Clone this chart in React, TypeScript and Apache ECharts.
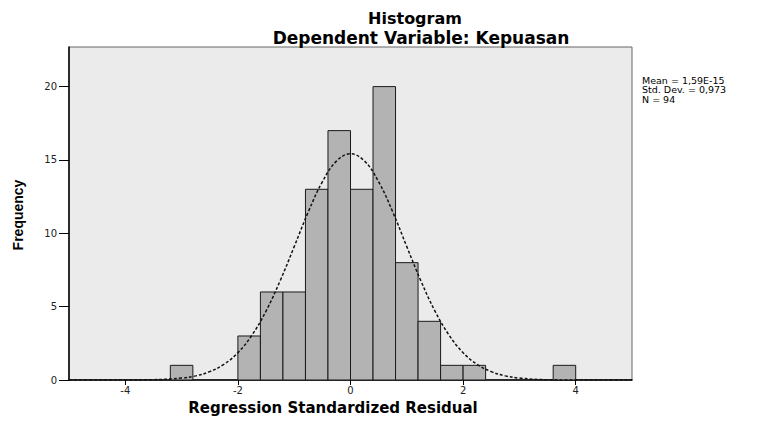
import React, { useEffect, useRef } from "react";
import * as echarts from "echarts";

const binStart = [-3.2, -2.0, -1.6, -1.2, -0.8, -0.4, 0, 0.4, 0.8, 1.2, 1.6, 2.0, 3.6];
const binEnd = [-2.8, -1.6, -1.2, -0.8, -0.4, 0, 0.4, 0.8, 1.2, 1.6, 2.0, 2.4, 4.0];
const counts = [1, 3, 6, 6, 13, 17, 13, 20, 8, 4, 1, 1, 1];

const curveX = [-5, -4.5, -4, -3.5, -3, -2.75, -2.5, -2.25, -2, -1.75, -1.5, -1.25, -1, -0.75, -0.5, -0.25, 0,
  0.25, 0.5, 0.75, 1, 1.25, 1.5, 1.75, 2, 2.25, 2.5, 2.75, 3, 3.5, 4, 4.5, 5];
const curveY = [0, 0, 0.003, 0.02, 0.13, 0.28, 0.57, 1.06, 1.86, 3.06, 4.7, 6.76, 9.09, 11.46, 13.51, 14.92, 15.42,
  14.92, 13.51, 11.46, 9.09, 6.76, 4.7, 3.06, 1.86, 1.06, 0.57, 0.28, 0.13, 0.02, 0.003, 0, 0];

const xTicks = [-4, -2, 0, 2, 4];
const yTicks = [0, 5, 10, 15, 20];

const title = "Histogram";
const subtitle = "Dependent Variable: Kepuasan";
const xName = "Regression Standardized Residual";
const yName = "Frequency";
const statsLines = ["Mean = 1,59E-15", "Std. Dev. = 0,973", "N = 94"];

export default function App() {
  const ref = useRef<HTMLDivElement>(null);
  useEffect(() => {
    if (!ref.current) return;
    const chart = echarts.init(ref.current, undefined, { renderer: "svg" });
    const font = "'DejaVu Sans', Arial, sans-serif";
    chart.setOption({
      animation: false,
      backgroundColor: "#ffffff",
      grid: {
        left: 69, right: 127, top: 47, bottom: 42,
        show: true, backgroundColor: "#ebebeb", borderColor: "#666", borderWidth: 1,
      },
      xAxis: {
        type: "value", min: -5, max: 5,
        axisLine: { show: true, onZero: false, lineStyle: { color: "#000", width: 1.5 } },
        axisTick: { show: true, customValues: xTicks, length: 5, lineStyle: { color: "#000" } },
        axisLabel: { customValues: xTicks, margin: 5, color: "#222", fontSize: 10, fontFamily: font },
        splitLine: { show: false },
      },
      yAxis: {
        type: "value", min: 0, max: 22.7,
        axisLine: { show: true, onZero: false, lineStyle: { color: "#000", width: 1.5 } },
        axisTick: { show: true, customValues: yTicks, length: 10, lineStyle: { color: "#000" } },
        axisLabel: { customValues: yTicks, margin: 12, color: "#222", fontSize: 10, fontFamily: font },
        splitLine: { show: false },
      },
      series: [
        {
          type: "custom",
          data: binStart.map((s, i) => [s, binEnd[i], counts[i]]),
          encode: { x: [0, 1], y: 2 },
          renderItem: (params: any, api: any) => {
            const p0 = api.coord([api.value(0), api.value(2)]);
            const p1 = api.coord([api.value(1), 0]);
            return {
              type: "rect",
              shape: { x: p0[0], y: p0[1], width: p1[0] - p0[0], height: p1[1] - p0[1] },
              style: { fill: "#b3b3b3", stroke: "#1a1a1a", lineWidth: 1 },
            };
          },
          z: 2,
        },
        {
          type: "line",
          data: curveX.map((x, i) => [x, curveY[i]]),
          smooth: 0.4,
          showSymbol: false,
          lineStyle: { color: "#111", width: 1.5, type: [3, 2] },
          z: 3,
        },
      ],
      graphic: [
        {
          type: "text", x: 415, y: 18,
          style: { text: title, fontFamily: font, fontWeight: "bold", fontSize: 16, fill: "#000", textAlign: "center", textVerticalAlign: "middle" },
        },
        {
          type: "text", x: 421, y: 38,
          style: { text: subtitle, fontFamily: font, fontWeight: "bold", fontSize: 17, fill: "#000", textAlign: "center", textVerticalAlign: "middle" },
        },
        {
          type: "text", x: 333, y: 408,
          style: { text: xName, fontFamily: font, fontWeight: "bold", fontSize: 15, fill: "#000", textAlign: "center", textVerticalAlign: "middle" },
        },
        {
          type: "text", x: 18, y: 215, rotation: Math.PI / 2,
          style: { text: yName, fontFamily: "'Liberation Sans Narrow', 'Liberation Sans', Arial, sans-serif", fontWeight: "bold", fontSize: 14, fill: "#000", textAlign: "center", textVerticalAlign: "middle" },
        },
        ...statsLines.map((t, i) => ({
          type: "text", x: 642, y: 80 + i * 9.5,
          style: { text: t, fontFamily: font, fontSize: 9.5, fill: "#000", textAlign: "left", textVerticalAlign: "middle" },
        })),
      ],
    });
    return () => chart.dispose();
  }, []);
  return <div ref={ref} style={{ position: "absolute", left: 0, top: 0, width: 759, height: 422 }} />;
}
